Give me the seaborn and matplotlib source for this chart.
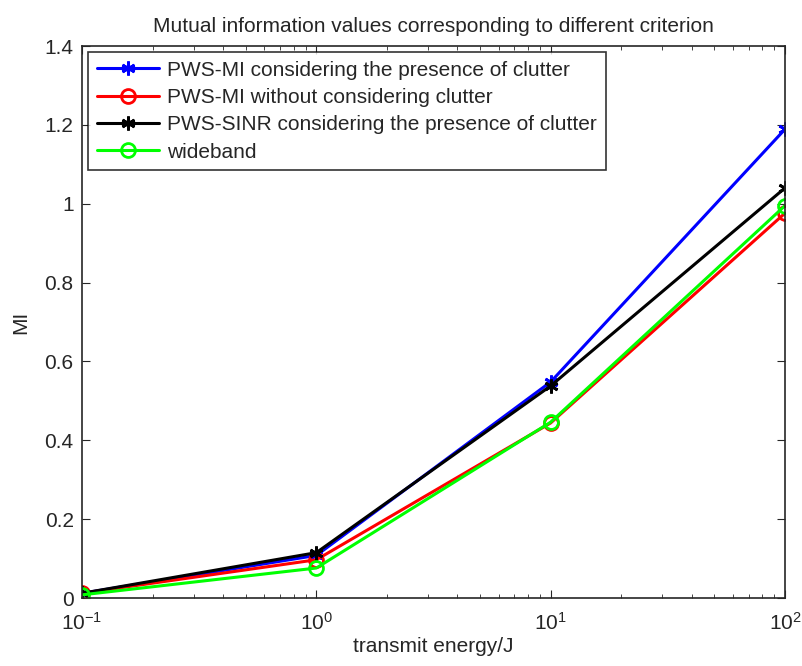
import matplotlib
matplotlib.use("Agg")
import matplotlib.pyplot as plt
import seaborn as sns
import pandas as pd
from matplotlib.ticker import LogLocator, NullFormatter

energy = [0.1, 1, 10, 100]
pws_mi_clutter = [0.012, 0.108, 0.548, 1.189]
pws_mi_no_clutter = [0.012, 0.097, 0.444, 0.976]
pws_sinr_clutter = [0.012, 0.115, 0.538, 1.040]
wideband = [0.008, 0.076, 0.446, 0.995]

labels = ["PWS-MI considering the presence of clutter",
          "PWS-MI without considering clutter",
          "PWS-SINR considering the presence of clutter",
          "wideband"]
series = [pws_mi_clutter, pws_mi_no_clutter, pws_sinr_clutter, wideband]
colors = ["#0000ff", "#ff0000", "#000000", "#00ff00"]
markers = [(6, 2, 0), "o", (6, 2, 0), "o"]

sns.set_style("ticks")
plt.rcParams['font.family'] = ['Liberation Sans', 'DejaVu Sans']
plt.rcParams['mathtext.fontset'] = 'custom'
plt.rcParams['mathtext.rm'] = 'Liberation Sans'

fig = plt.figure(figsize=(8.02, 6.66), dpi=100)
ax = fig.add_axes([82 / 802, 68 / 666, 703 / 802, 552 / 666])

for lab, vals, c, m in zip(labels, series, colors, markers):
    df = pd.DataFrame({"energy": energy, "MI": vals})
    sns.lineplot(data=df, x="energy", y="MI", ax=ax, color=c, marker=m,
                 markersize=10, markerfacecolor="none" if m == "o" else c,
                 markeredgecolor=c, markeredgewidth=2, linewidth=2.2, label=lab)

ax.set_xscale("log")
ax.set_xlim(0.1, 100)
ax.set_ylim(0, 1.4)
ax.set_yticks([0, 0.2, 0.4, 0.6, 0.8, 1.0, 1.2, 1.4])
ax.set_yticklabels(["0", "0.2", "0.4", "0.6", "0.8", "1", "1.2", "1.4"])
ax.xaxis.set_minor_locator(LogLocator(base=10, subs=range(2, 10)))
ax.xaxis.set_minor_formatter(NullFormatter())
ax.tick_params(which="both", direction="in", top=True, right=True, labelsize=15)
ax.tick_params(which="major", length=6)
ax.tick_params(axis="y", which="major", pad=6)
ax.tick_params(axis="x", which="major", pad=10)
ax.tick_params(which="minor", length=3)
for s in ax.spines.values():
    s.set_linewidth(1.2)
    s.set_color("#262626")

ax.set_xlabel("transmit energy/J", fontsize=15, labelpad=2)
ax.set_ylabel("MI", fontsize=15, labelpad=10)
ax.set_title("Mutual information values corresponding to different criterion",
             fontsize=15, pad=10)

leg = ax.legend(loc="upper left", fontsize=15, frameon=True, fancybox=False,
                edgecolor="black", borderaxespad=0.3, handlelength=3.0,
                handletextpad=0.4, labelspacing=0.4, borderpad=0.4)
leg.get_frame().set_linewidth(1.2)

fig.savefig("out.png", dpi=100)
